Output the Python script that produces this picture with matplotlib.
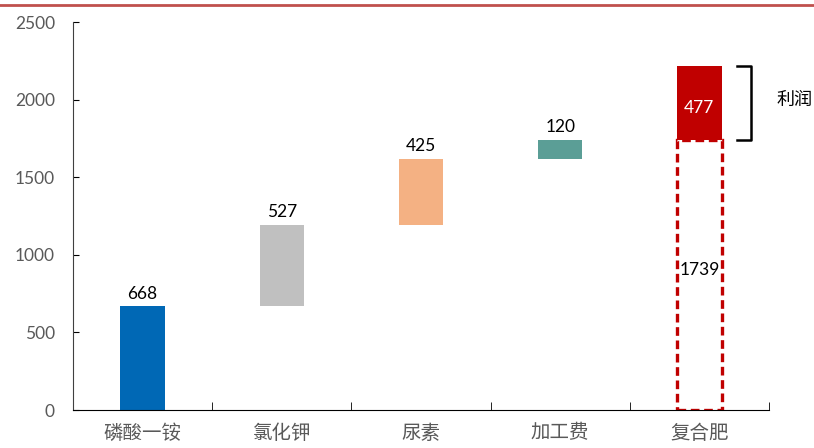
import matplotlib.pyplot as plt
from matplotlib.lines import Line2D

plt.rcParams['font.family'] = ['Lato', 'Noto Sans CJK SC', 'DejaVu Sans']

# 数据
categories = ["磷酸一铵", "氯化钾", "尿素", "加工费", "复合肥"]
increments = [668, 527, 425, 120]
cost_total = 1739
profit = 477
colors = ['#0068B5', '#C0C0C0', '#F4B183', '#5B9E96']

fig = plt.figure(figsize=(8.14, 4.48), dpi=100)
ax = fig.add_axes([0.0897, 0.0848, 0.855, 0.866])

x = list(range(len(categories)))
w = 0.32

# 瀑布部分
base = 0
for i, (v, c) in enumerate(zip(increments, colors)):
    ax.bar(x[i], v, bottom=base, width=w, color=c)
    ax.text(x[i], base + v + 30, str(v), ha='center', va='bottom', fontsize=12.5, color='black')
    base += v

# 复合肥: 成本 (虚线) + 利润
ax.bar(x[4], cost_total, width=w, fill=False, edgecolor='#C00000', linestyle=(0, (2.6, 1.4)), linewidth=2.4)
ax.text(x[4], 900, str(cost_total), ha='center', va='center', fontsize=12.5, color='black')
ax.bar(x[4], profit, bottom=cost_total, width=w, color='#C00000')
ax.text(x[4], cost_total + profit / 2 - 30, str(profit), ha='center', va='center', fontsize=12.5, color='white')

# 括号 + 利润
bx0, bx1 = 4.27, 4.37
ytop, ybot = cost_total + profit, cost_total
ax.plot([bx0, bx1, bx1, bx0], [ytop, ytop, ybot, ybot], color='black', lw=1.8, clip_on=False)
ax.text(4.68, (ytop + ybot) / 2 + 20, "利润", ha='center', va='center', fontsize=13,
        family=['Noto Sans CJK SC', 'DejaVu Sans'])

ax.set_xlim(-0.5, 4.5)
ax.set_ylim(0, 2500)
ax.set_yticks([0, 500, 1000, 1500, 2000, 2500])
ax.tick_params(axis='y', direction='in', length=4, labelsize=12.5, labelcolor='#595959', pad=13)
ax.set_xticks(x)
ax.set_xticklabels(categories, fontsize=14, color='#595959', family=['Noto Sans CJK SC', 'DejaVu Sans'])
ax.set_xticks([0.5, 1.5, 2.5, 3.5, 4.5], minor=True)
ax.tick_params(axis='x', which='major', length=0, pad=9)
ax.tick_params(axis='x', which='minor', direction='in', length=6)

for s in ['top', 'right']:
    ax.spines[s].set_visible(False)
ax.spines['left'].set_color('#404040')
ax.spines['bottom'].set_color('black')

# 顶部红线
fig.add_artist(Line2D([0, 1], [0.988, 0.988], color='#C0504D', lw=2, transform=fig.transFigure))

plt.savefig("out.png", dpi=100)
